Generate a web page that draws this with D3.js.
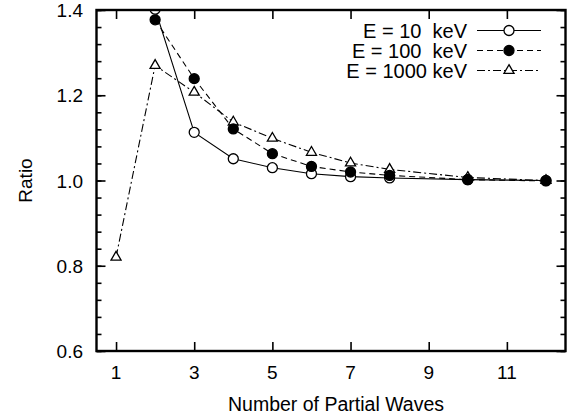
<!DOCTYPE html>
<html>
<head>
<meta charset="utf-8">
<script src="https://cdn.jsdelivr.net/npm/d3@7.9.0/dist/d3.min.js"></script>
<style>
  body { margin: 0; background: #fff; }
  svg { display: block; font-family: "Liberation Sans", Arial, sans-serif; }
  text { fill: #000; }
</style>
</head>
<body>
<svg id="chart" width="575" height="418"></svg>
<script>
// partial waves (x) for each energy
const waves10 = [2, 3, 4, 5, 6, 7, 8, 10, 12];
const waves100 = [2, 3, 4, 5, 6, 7, 8, 10, 12];
const waves1000 = [1, 2, 3, 4, 5, 6, 7, 8, 10, 12];

// ratio values
const ratio10 = [1.402, 1.113, 1.051, 1.030, 1.016, 1.009, 1.006, 1.002, 1.000];
const ratio100 = [1.377, 1.239, 1.121, 1.063, 1.033, 1.020, 1.012, 1.002, 0.999];
const ratio1000 = [0.820, 1.270, 1.207, 1.137, 1.099, 1.066, 1.041, 1.026, 1.007, 1.000];

const seriesLabels = ['E = 10  keV', 'E = 100  keV', 'E = 1000 keV'];
const xTicks = [1, 3, 5, 7, 9, 11];
const yTicks = [0.6, 0.8, 1.0, 1.2, 1.4];

const svg = d3.select('#chart');
const pLeft = 96.5, pRight = 565.5, pTop = 10, pBottom = 351;

const x = d3.scaleLinear().domain([0.5, 12.5]).range([pLeft, pRight]);
const y = d3.scaleLinear().domain([0.6, 1.4]).range([pBottom, pTop]);

svg.append('clipPath').attr('id', 'plotclip')
  .append('rect')
  .attr('x', pLeft).attr('y', pTop)
  .attr('width', pRight - pLeft).attr('height', pBottom - pTop);

// axes: ticks point inward
const minorY = d3.range(0.6, 1.4001, 0.04);
const drawY = (gen, xpos) => svg.append('g')
  .attr('transform', `translate(${xpos},0)`)
  .call(gen)
  .call(g => g.select('.domain').remove());

drawY(d3.axisRight(y).tickValues(minorY).tickSize(5).tickFormat(''), pLeft);
drawY(d3.axisRight(y).tickValues(yTicks).tickSize(9).tickFormat(''), pLeft);
drawY(d3.axisLeft(y).tickValues(minorY).tickSize(5).tickFormat(''), pRight);
drawY(d3.axisLeft(y).tickValues(yTicks).tickSize(9).tickFormat(''), pRight);

svg.append('g').attr('transform', `translate(0,${pBottom})`)
  .call(d3.axisTop(x).tickValues(xTicks).tickSize(9).tickFormat(''))
  .call(g => g.select('.domain').remove());
svg.append('g').attr('transform', `translate(0,${pTop})`)
  .call(d3.axisBottom(x).tickValues(xTicks).tickSize(9).tickFormat(''))
  .call(g => g.select('.domain').remove());

svg.selectAll('.tick line').attr('stroke', '#000').attr('stroke-width', 1.6);

// tick labels
svg.append('g').selectAll('text').data(yTicks).join('text')
  .attr('x', 83).attr('y', d => y(d) + 7)
  .attr('text-anchor', 'end').attr('font-size', 19)
  .text(d => d3.format('.1f')(d));

svg.append('g').selectAll('text').data(xTicks).join('text')
  .attr('x', d => x(d)).attr('y', 379)
  .attr('text-anchor', 'middle').attr('font-size', 19)
  .text(d => d);

// axis titles
svg.append('text')
  .attr('x', 336).attr('y', 411)
  .attr('text-anchor', 'middle').attr('font-size', 19.5)
  .text('Number of Partial Waves');

svg.append('text')
  .attr('transform', `translate(32,${(pTop + pBottom) / 2}) rotate(-90)`)
  .attr('text-anchor', 'middle').attr('font-size', 19)
  .text('Ratio');

// series
const series = [
  {xs: waves10, ys: ratio10, dash: null, marker: 'open'},
  {xs: waves100, ys: ratio100, dash: '6,4', marker: 'filled'},
  {xs: waves1000, ys: ratio1000, dash: '8,3,2,3', marker: 'triangle'}
];
const drawOrder = [2, 0, 1];

const line = d3.line().x(d => x(d[0])).y(d => y(d[1]));
const tri = d3.symbol().type(d3.symbolTriangle).size(44);

function drawMarker(g, kind, cx, cy) {
  if (kind === 'triangle') {
    g.append('path').attr('d', tri())
      .attr('transform', `translate(${cx},${cy})`)
      .attr('fill', '#fff').attr('stroke', '#000').attr('stroke-width', 1.3);
  } else {
    g.append('circle').attr('cx', cx).attr('cy', cy).attr('r', 5)
      .attr('fill', kind === 'filled' ? '#000' : '#fff')
      .attr('stroke', '#000').attr('stroke-width', 1.3);
  }
}

const plot = svg.append('g').attr('clip-path', 'url(#plotclip)');

drawOrder.forEach(k => {
  const s = series[k];
  const pts = s.xs.map((v, i) => [v, s.ys[i]]);
  plot.append('path').datum(pts)
    .attr('d', line)
    .attr('fill', 'none').attr('stroke', '#000').attr('stroke-width', 1.1)
    .attr('stroke-dasharray', s.dash);
  s.xs.forEach((v, i) => drawMarker(plot, s.marker, x(v), y(s.ys[i])));
});

// legend
const legendRows = [30.5, 50.5, 70.5];
series.forEach((s, i) => {
  const ly = legendRows[i];
  svg.append('text')
    .attr('x', 467).attr('y', ly + 7)
    .attr('text-anchor', 'end').attr('font-size', 20)
    .style('white-space', 'pre')
    .text(seriesLabels[i]);
  svg.append('line')
    .attr('x1', 477).attr('x2', 541).attr('y1', ly).attr('y2', ly)
    .attr('stroke', '#000').attr('stroke-width', 1.1)
    .attr('stroke-dasharray', s.dash);
  drawMarker(svg, s.marker, 509, ly);
});

// frame
svg.append('rect')
  .attr('x', pLeft).attr('y', pTop)
  .attr('width', pRight - pLeft).attr('height', pBottom - pTop)
  .attr('fill', 'none').attr('stroke', '#000').attr('stroke-width', 2.4);
</script>
</body>
</html>
